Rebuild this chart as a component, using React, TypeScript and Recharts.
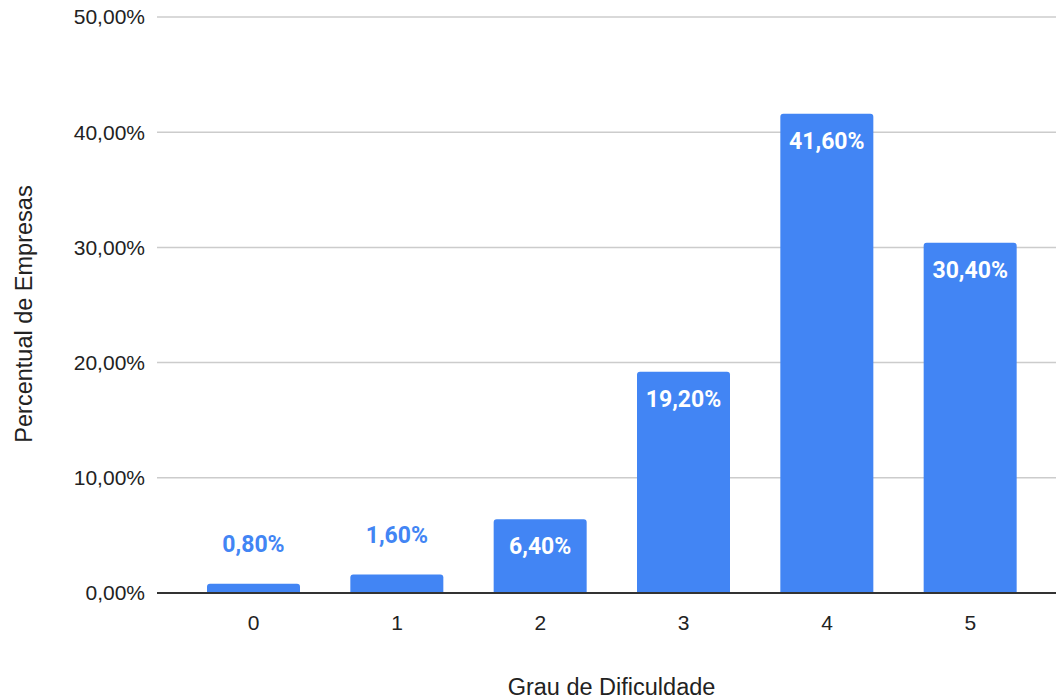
import { BarChart, Bar, XAxis, YAxis, CartesianGrid, LabelList, Label } from 'recharts'

const graus = ['0', '1', '2', '3', '4', '5']
const percentuais = [0.8, 1.6, 6.4, 19.2, 41.6, 30.4]
const yTicks = [0, 10, 20, 30, 40, 50]

const data = graus.map((grau, i) => ({ grau, pct: percentuais[i] }))

const fmt = (v: number) => `${v.toFixed(2).replace('.', ',')}%`

// short bars get the label above in blue, the rest get it inside in white
function BarValue(props: any) {
  const { x, y, width, height, value } = props
  const inside = height > 40
  return (
    <text
      x={x + width / 2}
      y={inside ? y + 35 : y - 32}
      textAnchor="middle"
      fill={inside ? '#ffffff' : '#4285F4'}
      fontFamily="Roboto"
      fontWeight="bold"
      fontSize={23}
    >
      {fmt(value)}
    </text>
  )
}

export default function App() {
  const axisFont = { fontFamily: 'Liberation Sans', fontSize: 21, fill: '#222222' }
  const titleFont = { ...axisFont, fontSize: 23.5 }
  return (
    <div style={{ width: 1056, height: 700, background: '#fff' }}>
      <style>{'body{margin:0}'}</style>
      <BarChart width={1056} height={700} data={data} margin={{ top: 17, right: 0, bottom: 0, left: 0 }}>
        <CartesianGrid vertical={false} stroke="#cccccc" strokeWidth={1.5} />
        <XAxis
          dataKey="grau"
          height={107}
          padding={{ left: 25, right: 14 }}
          tickLine={false}
          tickSize={0}
          tickMargin={22}
          axisLine={{ stroke: '#333333', strokeWidth: 2 }}
          tick={axisFont}
        >
          <Label value="Grau de Dificuldade" position="insideBottom" offset={5} dx={5} style={titleFont} />
        </XAxis>
        <YAxis
          width={157}
          domain={[0, 50]}
          ticks={yTicks}
          tickFormatter={fmt}
          tickLine={false}
          tickSize={0}
          tickMargin={12}
          axisLine={false}
          tick={axisFont}
        >
          <Label
            value="Percentual de Empresas"
            angle={-90}
            position="insideLeft"
            offset={24}
            dy={9}
            style={{ ...titleFont, textAnchor: 'middle' }}
          />
        </YAxis>
        <Bar dataKey="pct" fill="#4285F4" barSize={93} radius={[3, 3, 0, 0]} isAnimationActive={false}>
          <LabelList dataKey="pct" content={<BarValue />} />
        </Bar>
      </BarChart>
    </div>
  )
}
